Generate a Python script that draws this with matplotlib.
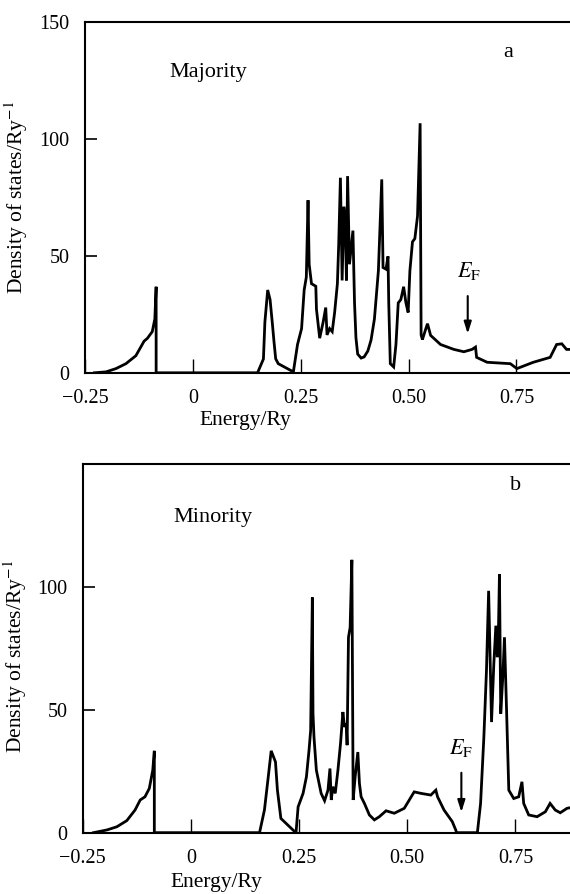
import matplotlib
matplotlib.use("Agg")
import matplotlib.pyplot as plt

plt.rcParams['font.family'] = ['Liberation Serif', 'DejaVu Serif']
plt.rcParams['mathtext.fontset'] = 'stix'

# Majority spin DOS (energy in Ry, DOS in states/Ry)
maj_energy = [-0.228, -0.201, -0.178, -0.155, -0.132, -0.113, -0.105, -0.094, -0.088, -0.085, -0.085,
              0.150, 0.1636, 0.167, 0.1735, 0.179, 0.184, 0.188, 0.192, 0.198, 0.233,
              0.2426, 0.252, 0.258, 0.263, 0.267, 0.2696, 0.275, 0.285, 0.2865, 0.294,
              0.302, 0.308, 0.311, 0.317, 0.323, 0.3286, 0.335, 0.338, 0.342, 0.346,
              0.350, 0.353, 0.356, 0.3586, 0.363, 0.371, 0.3747, 0.378, 0.382, 0.390, 0.397, 0.4055,
              0.413, 0.4208, 0.430, 0.4378, 0.4408, 0.4477, 0.4523, 0.454, 0.4576, 0.4654, 0.4707,
              0.476, 0.482, 0.4885, 0.4938, 0.499, 0.503, 0.509, 0.5145, 0.5207, 0.5267,
              0.529, 0.532, 0.540, 0.5438, 0.551, 0.574, 0.605, 0.628, 0.647, 0.655,
              0.6576, 0.682, 0.7357, 0.751, 0.789, 0.828, 0.843, 0.855, 0.866, 0.874, 0.90]
maj_dos = [0, 0.4, 1.8, 3.9, 7.3, 13.5, 14.8, 17.6, 23, 36.8, 0,
           0, 5.9, 21.7, 35.4, 31.3, 21.7, 13.5, 6, 3.9, 0.4,
           12.1, 18.9, 35.4, 40.9, 73.8, 46.4, 38.1, 37, 27.2, 14.8,
           21.7, 27.9, 16.2, 18.9, 17.6, 25.8, 38.1, 54.6, 83.4, 39.5,
           71, 65.6, 39.5, 84.1, 46.4, 60.8, 29.9, 15, 8, 6.3, 6.8, 9.3,
           14, 23, 43.6, 82.7, 45, 44.3, 49.8, 29.9, 3.9, 2.5, 12.1,
           29.9, 31.3, 36.8, 29.9, 25.8, 43.6, 56, 57.4, 67, 106.7,
           16.2, 14.2, 18.9, 21, 16, 12.1, 10, 9, 10, 11,
           6.6, 4.5, 3.9, 1.8, 4.5, 6.6, 12.1, 12.4, 10, 10, 10]

# Minority spin DOS
min_energy = [-0.225, -0.194, -0.171, -0.148, -0.129, -0.117, -0.106, -0.096, -0.088, -0.0844, -0.0844,
              0.1587, 0.170, 0.178, 0.1856, 0.1955, 0.200, 0.208, 0.240, 0.243,
              0.2478, 0.2593, 0.267, 0.273, 0.2768, 0.2807, 0.2822, 0.2845, 0.290, 0.301,
              0.309, 0.3168, 0.3214, 0.3244, 0.328, 0.3336, 0.3398, 0.3458, 0.3513, 0.355,
              0.359, 0.361, 0.3642, 0.368, 0.372, 0.375, 0.3796, 0.3858, 0.3895, 0.3934,
              0.401, 0.4125, 0.424, 0.4355, 0.451, 0.470, 0.493, 0.516, 0.5314, 0.5544,
              0.566, 0.570, 0.585, 0.604, 0.612, 0.614,
              0.662, 0.6694, 0.677, 0.683, 0.688, 0.6947, 0.700, 0.7047, 0.708, 0.710,
              0.713, 0.716, 0.7207, 0.7246, 0.729, 0.7346, 0.746, 0.7575, 0.765, 0.769,
              0.7806, 0.80, 0.819, 0.830, 0.842, 0.8535, 0.869, 0.90]
min_dos = [0, 1.1, 2.4, 4.9, 9.2, 13.3, 14.6, 18, 25.4, 33.3, 0,
           0, 9.2, 21.4, 33.3, 28.8, 17.3, 5.8, 0.4, 0,
           10.5, 16, 22.7, 33.5, 41.6, 95.7, 48.4, 38.9, 25.4, 16,
           13, 17.3, 26.1, 13.3, 18.7, 16, 25.4, 36.3, 49.1, 43,
           44.4, 35.6, 79.5, 83.5, 111, 13.3, 22.7, 32.8, 20, 14.6,
           11.9, 7.2, 5.2, 6.5, 8.9, 7.9, 9.9, 16.6, 16, 15.3,
           17.3, 14.6, 9.2, 4.5, 1.1, 0,
           0, 11.9, 38.9, 66, 98.4, 45, 68.7, 84.2, 71.4, 75.4,
           105.2, 48.4, 63.3, 79.5, 52.5, 17.3, 13.9, 14.6, 20.7, 11.9,
           7.2, 6.5, 8.5, 11.9, 9.2, 8.1, 9.9, 11]

x_ticks = [-0.25, 0, 0.25, 0.50, 0.75]
x_ticklabels = ['\u22120.25', '0', '0.25', '0.50', '0.75']
fermi_top = 0.637
fermi_bottom = 0.625

fig = plt.figure(figsize=(5.70, 8.94), dpi=100)
ax1 = fig.add_axes([0.149, 0.583, 0.851, 0.3924])
ax2 = fig.add_axes([0.145, 0.0686, 0.855, 0.4124])

lw_curve = 2.0
fs_tick = 14.5
fs_lab = 15.5

def style(ax, xlim):
    ax.set_xlim(*xlim)
    ax.set_ylim(0, 150)
    for s in ['left', 'bottom', 'top']:
        ax.spines[s].set_linewidth(1.5)
    ax.spines['right'].set_visible(False)
    ax.set_xticks(x_ticks)
    ax.set_xticklabels(x_ticklabels)
    ax.tick_params(axis='x', direction='in', length=10, width=1.0, pad=12, labelsize=fs_tick)
    ax.tick_params(axis='y', direction='in', length=8.5, width=1.2, pad=11, labelsize=fs_tick)
    ax.tick_params(top=False, right=False)

# Top panel (majority)
ax1.plot(maj_energy, maj_dos, color='k', lw=lw_curve, solid_joinstyle='miter')
style(ax1, (-0.2435, 0.874))
ax1.set_yticks([0, 50, 100, 150])
ax1.set_yticklabels(['0', '50', '100', '150'])
ax1.set_xlabel('Energy/Ry', fontsize=fs_lab)
ax1.xaxis.set_label_coords(0.33, -0.108)
ax1.set_ylabel('Density of states/Ry$^{-1}$', fontsize=fs_lab)
ax1.yaxis.set_label_coords(-0.113, 0.5)
ax1.text(0.254, 0.857, 'Majority', transform=ax1.transAxes, fontsize=16, ha='center', va='center')
ax1.text(0.872, 0.912, 'a', transform=ax1.transAxes, fontsize=16, ha='center', va='center')
ax1.text(fermi_top + 0.003, 43.5, r'$E_\mathrm{F}$', fontsize=16, ha='center', va='center')
ax1.annotate('', xy=(fermi_top, 15.5), xytext=(fermi_top, 34),
             arrowprops=dict(arrowstyle='-|>,head_width=0.22,head_length=0.7', color='k', lw=1.5))

# Bottom panel (minority)
ax2.plot(min_energy, min_dos, color='k', lw=lw_curve, solid_joinstyle='miter')
style(ax2, (-0.2445, 0.876))
ax2.set_yticks([0, 50, 100])
ax2.set_yticklabels(['0', '50', '100'])
ax2.set_xlabel('Energy/Ry', fontsize=fs_lab)
ax2.xaxis.set_label_coords(0.274, -0.11)
ax2.set_ylabel('Density of states/Ry$^{-1}$', fontsize=fs_lab)
ax2.yaxis.set_label_coords(-0.110, 0.477)
ax2.text(0.267, 0.856, 'Minority', transform=ax2.transAxes, fontsize=16, ha='center', va='center')
ax2.text(0.889, 0.943, 'b', transform=ax2.transAxes, fontsize=16, ha='center', va='center')
ax2.text(fermi_bottom, 34.3, r'$E_\mathrm{F}$', fontsize=16, ha='center', va='center')
ax2.annotate('', xy=(fermi_bottom, 7.2), xytext=(fermi_bottom, 25.5),
             arrowprops=dict(arrowstyle='-|>,head_width=0.22,head_length=0.7', color='k', lw=1.5))

fig.savefig('out.png', dpi=100)
